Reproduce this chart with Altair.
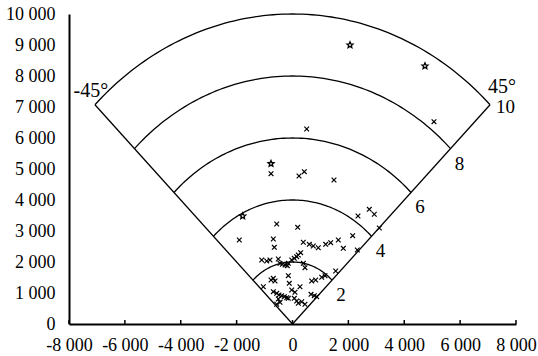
import altair as alt
import pandas as pd
import numpy as np

# ---- data ----
CROSS_X = [508, 5064, -769, 233, 422, 1485, -565, 186, -1904, -687, -651,
           2344, 2749, 2928, 3107, 387, 601, 744, 923, 1188, 1367, 1639, 1818,
           2155, 2319, 293,
           -1102, -923, -805, -508, -447, -365, -268, -186, -150, -29, 64, 150,
           208, 387, 447, 1546, -1045, -769, -687, -626, -150, -115, 268, 687,
           830, 1045, 1163, -687, -565, -483, -387, -293, -208, -150, -508,
           -447, -565, -29, 89, 64, 150, 208, 329, 447, 662, 780, 866]
CROSS_Y = [6290, 6526, 4849, 4774, 4913, 4645, 3226, 3119, 2710, 2742, 2474,
           3484, 3700, 3539, 3097, 2636, 2571, 2516, 2461, 2571, 2623, 2710, 2442,
           2849, 2387, 2300,
           2065, 2032, 2065, 2097, 1958, 1926, 1903, 1881, 1958, 2065, 2119, 2171,
           2226, 1958, 1816, 1710, 1203, 1419, 1474, 1387, 1558, 1313, 1203, 1387,
           1419, 1507, 1558, 1042, 990, 936, 913, 881, 848, 829, 807,
           700, 636, 1097, 1023, 829, 742, 668, 719, 636, 958, 913, 881]
STAR_X = [2058, 4742, -769, -1782]
STAR_Y = [9000, 8323, 5172, 3484]

RADII = [2000, 4000, 6000, 8000, 10000]
RADIUS_LABELS = ["2", "4", "6", "8", "10"]
HALF_ANGLE = 45
ANGLE_LABELS = ["-45°", "45°"]
X_TICKS = [-8000, -6000, -4000, -2000, 0, 2000, 4000, 6000, 8000]
Y_TICKS = [0, 1000, 2000, 3000, 4000, 5000, 6000, 7000, 8000, 9000, 10000]

FONT = "Liberation Serif"

# ---- marker shapes (unit-square SVG paths) ----
CROSS_PATH = "M-1,-1L1,1M-1,1L1,-1"
_pts = []
for k in range(10):
    ang = np.radians(-90 + 36 * k)
    rad = 1.0 if k % 2 == 0 else 0.45
    _pts.append(f"{rad * np.cos(ang):.3f},{rad * np.sin(ang):.3f}")
STAR_PATH = "M" + "L".join(_pts) + "Z"

# ---- one table built from the arrays ----
rows = []
for x, y in zip(CROSS_X, CROSS_Y):
    rows.append({"kind": "cross", "x": float(x), "y": float(y), "g": 0, "o": 0, "t": ""})
for x, y in zip(STAR_X, STAR_Y):
    rows.append({"kind": "star", "x": float(x), "y": float(y), "g": 0, "o": 0, "t": ""})
for r in RADII:
    for k, a in enumerate(np.linspace(-HALF_ANGLE, HALF_ANGLE, 91)):
        t = np.radians(a)
        rows.append({"kind": "arc", "x": float(r * np.sin(t)), "y": float(r * np.cos(t)),
                     "g": int(r), "o": k, "t": ""})
R = max(RADII)
s45 = float(np.sin(np.radians(HALF_ANGLE)))
c45 = float(np.cos(np.radians(HALF_ANGLE)))
for side in (-1, 1):
    rows.append({"kind": "edge", "x": 0.0, "y": 0.0, "g": side, "o": 0, "t": ""})
    rows.append({"kind": "edge", "x": side * R * s45, "y": R * c45, "g": side, "o": 1, "t": ""})
for r, lab in zip(RADII[:-1], RADIUS_LABELS[:-1]):
    rows.append({"kind": "rlab", "x": r * s45, "y": r * c45, "g": 0, "o": 0, "t": lab})
rows.append({"kind": "rlab10", "x": R * s45, "y": R * c45, "g": 0, "o": 0, "t": RADIUS_LABELS[-1]})
rows.append({"kind": "angL", "x": -R * s45, "y": R * c45, "g": 0, "o": 0, "t": ANGLE_LABELS[0]})
rows.append({"kind": "angR", "x": R * s45, "y": R * c45, "g": 0, "o": 0, "t": ANGLE_LABELS[1]})
for v in X_TICKS:
    rows.append({"kind": "xtick", "x": float(v), "y": 0.0, "g": 0, "o": 0, "t": ""})
df = pd.DataFrame(rows)

label_expr = ("(datum.value < 0 ? '-' : '') + (datum.value == 0 ? '0' : "
              "floor(abs(datum.value)/1000) + ' 000')")

xaxis = alt.Axis(values=X_TICKS, labelExpr=label_expr, ticks=False, grid=False,
                 domainColor="black", domainWidth=2, labelFont=FONT, labelFontSize=18,
                 labelColor="black", labelPadding=12, title=None, labelFlush=False,
                 labelOverlap=False)
yaxis = alt.Axis(values=Y_TICKS, labelExpr=label_expr, ticks=False, grid=False,
                 domainColor="black", domainWidth=2, labelFont=FONT, labelFontSize=18,
                 labelColor="black", labelPadding=14, title=None, labelFlush=False,
                 labelOverlap=False)
xs = alt.Scale(domain=[-8000, 8000], nice=False, zero=False)
ys = alt.Scale(domain=[0, 10000], nice=False, zero=False)
X = alt.X("x:Q", scale=xs, axis=xaxis)
Y = alt.Y("y:Q", scale=ys, axis=yaxis)

base = alt.Chart(df)


def sel(kind):
    return base.transform_filter(alt.datum.kind == kind)


arc_layer = sel("arc").mark_line(color="black", strokeWidth=1.3).encode(
    x=X, y=Y, detail="g:N", order=alt.Order("o:Q"))
edge_layer = sel("edge").mark_line(color="black", strokeWidth=1.3).encode(
    x=X, y=Y, detail="g:N", order=alt.Order("o:Q"))
cross_layer = sel("cross").mark_point(
    shape=CROSS_PATH, filled=False, color="black", strokeWidth=1.2,
    size=22, opacity=1).encode(x=X, y=Y)
star_layer = sel("star").mark_point(
    shape=STAR_PATH, filled=False, color="black", strokeWidth=1.3, size=40,
    opacity=1).encode(x=X, y=Y)
tick_layer = sel("xtick").mark_rule(color="black", strokeWidth=1.5).encode(
    x=X, y=alt.value(306), y2=alt.value(310))
small_text = sel("rlab").mark_text(
    font=FONT, fontSize=19, color="black", align="center", baseline="middle",
    dx=9, dy=15).encode(x=X, y=Y, text="t:N")
big_text = sel("rlab10").mark_text(
    font=FONT, fontSize=19, color="black", align="left", baseline="middle",
    dx=6, dy=2).encode(x=X, y=Y, text="t:N")
right_text = sel("angR").mark_text(
    font=FONT, fontSize=20, color="black", align="left", baseline="middle",
    dx=-2, dy=-18).encode(x=X, y=Y, text="t:N")
left_text = sel("angL").mark_text(
    font=FONT, fontSize=20, color="black", align="center", baseline="middle",
    dx=-4, dy=-14).encode(x=X, y=Y, text="t:N")

chart = alt.layer(arc_layer, edge_layer, tick_layer, cross_layer, star_layer,
                  small_text, big_text, right_text, left_text).properties(
    width=447, height=310,
    autosize=alt.AutoSizeParams(type="none"),
    padding={"left": 69, "top": 14, "right": 22, "bottom": 32},
    background="white",
).configure_view(stroke=None)

chart.save("out.html", embed_options={"renderer": "svg", "actions": False})
